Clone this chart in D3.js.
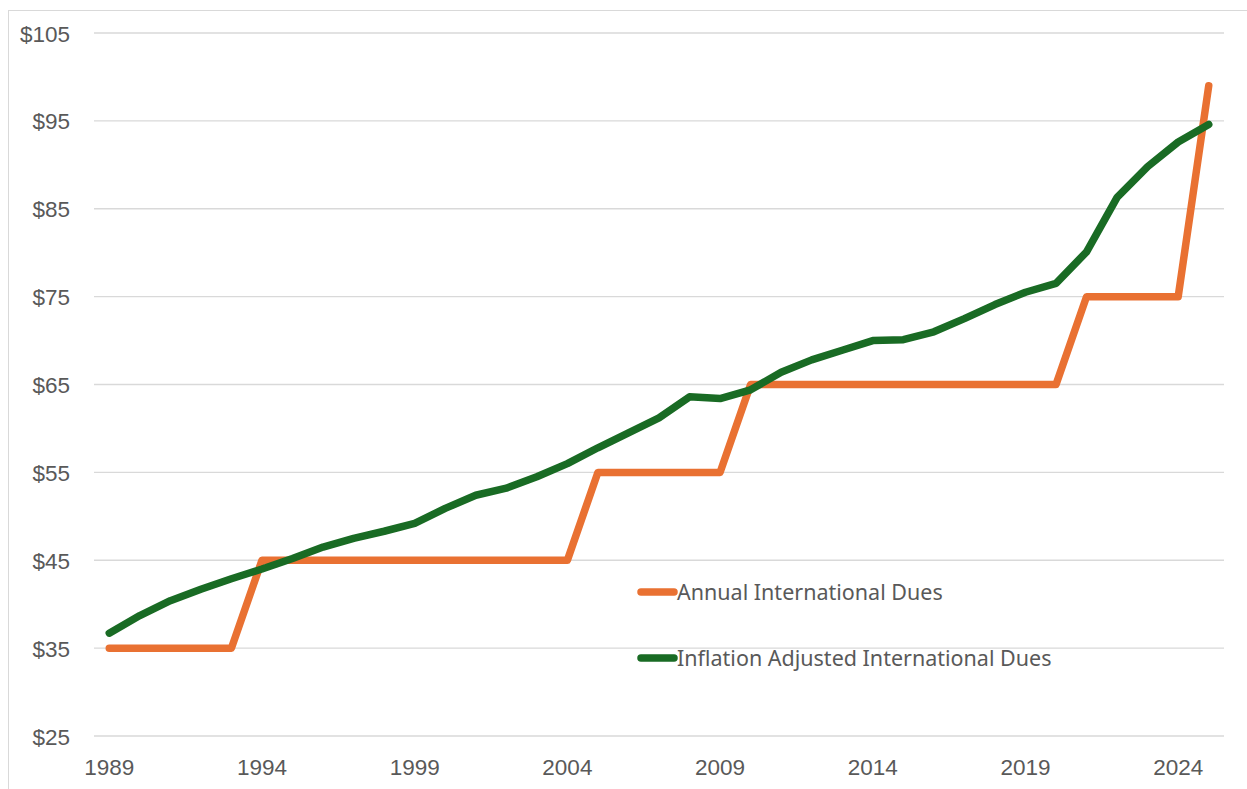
<!DOCTYPE html>
<html>
<head>
<meta charset="utf-8">
<script src="https://cdn.jsdelivr.net/npm/d3@7"></script>
<style>
body { margin:0; background:#fff; }
svg text { font-family: "Liberation Sans", Arial, sans-serif; fill:#595959; }
.legend text { font-family: "Noto Sans", "Open Sans", sans-serif; }
</style>
</head>
<body>
<svg id="chart"></svg>
<script>
//years along the bottom
var years = d3.range(1989, 2026);
//dues actually charged each year
var annualDues = [35,35,35,35,35,45,45,45,45,45,45,45,45,45,45,45,
    55,55,55,55,55,65,65,65,65,65,65,65,65,65,65,65,75,75,75,75,99];
//same dues adjusted for inflation
var adjustedDues = [36.7,38.7,40.4,41.7,42.9,44.0,45.2,46.5,47.5,48.3,49.2,
    50.9,52.4,53.2,54.5,56.0,57.8,59.5,61.2,63.6,63.4,64.4,66.4,67.8,68.9,
    70.0,70.1,71.0,72.5,74.1,75.5,76.5,80.1,86.3,89.8,92.6,94.6];
var yTicks = [25,35,45,55,65,75,85,95,105];
var xTickYears = [1989,1994,1999,2004,2009,2014,2019,2024];

var seriesNames = ["Annual International Dues","Inflation Adjusted International Dues"];
var seriesColors = ["#E97132","#196B24"];

var screen = {width:1247, height:789};
var margins = {top:33, bottom:53, left:94, right:23};
var graph = {
    width: screen.width - margins.left - margins.right,
    height: screen.height - margins.top - margins.bottom
};

var svg = d3.select("#chart")
    .attr("width", screen.width)
    .attr("height", screen.height);

//light frame round the chart (only top & left show)
svg.append("rect")
    .attr("x", 8.5).attr("y", 10.5)
    .attr("width", 1260).attr("height", 800)
    .attr("fill", "none")
    .attr("stroke", "#d9d9d9")
    .attr("stroke-width", 1);

var xScale = d3.scaleBand()
    .domain(years)
    .range([0, graph.width]);

var yScale = d3.scaleLinear()
    .domain([25,105])
    .range([graph.height, 0]);

var g = svg.append("g")
    .attr("transform","translate("+margins.left+","+margins.top+")");

//gridlines
g.append("g")
    .selectAll("line")
    .data(yTicks)
    .enter()
    .append("line")
    .attr("x1", 0)
    .attr("x2", graph.width)
    .attr("y1", function(d){ return yScale(d); })
    .attr("y2", function(d){ return yScale(d); })
    .attr("stroke", "#d9d9d9")
    .attr("stroke-width", 1.3);

//y axis
var yAxis = d3.axisLeft(yScale)
    .tickValues(yTicks)
    .tickSize(0)
    .tickPadding(24)
    .tickFormat(function(d){ return "$" + d; });
var ya = g.append("g").call(yAxis);
ya.select(".domain").remove();
ya.selectAll("text").style("font-size", "22.5px").attr("dy","0.36em");

//x axis
var xAxis = d3.axisBottom(xScale)
    .tickValues(xTickYears)
    .tickSize(0)
    .tickPadding(23);
var xa = g.append("g")
    .attr("transform","translate(0,"+graph.height+")")
    .call(xAxis);
xa.select(".domain").remove();
xa.selectAll("text").style("font-size", "22.5px");

var xPos = function(i){ return xScale(years[i]) + xScale.bandwidth()/2; };

var line = d3.line()
    .x(function(d,i){ return xPos(i); })
    .y(function(d){ return yScale(d); });

[annualDues, adjustedDues].forEach(function(series, k)
{
    g.append("path")
        .datum(series)
        .attr("d", line)
        .attr("fill","none")
        .attr("stroke", seriesColors[k])
        .attr("stroke-width", 7.5)
        .attr("stroke-linejoin","round")
        .attr("stroke-linecap","round");
});

//legend sits inside the plot
var legend = svg.append("g").classed("legend", true);
var legendY = [592, 658];
seriesNames.forEach(function(name, k)
{
    legend.append("line")
        .attr("x1", 641).attr("x2", 674)
        .attr("y1", legendY[k]).attr("y2", legendY[k])
        .attr("stroke", seriesColors[k])
        .attr("stroke-width", 7.5)
        .attr("stroke-linecap","round");
    legend.append("text")
        .attr("x", 677)
        .attr("y", legendY[k])
        .attr("dy","0.35em")
        .style("font-size", "21.5px")
        .text(name);
});
</script>
</body>
</html>
